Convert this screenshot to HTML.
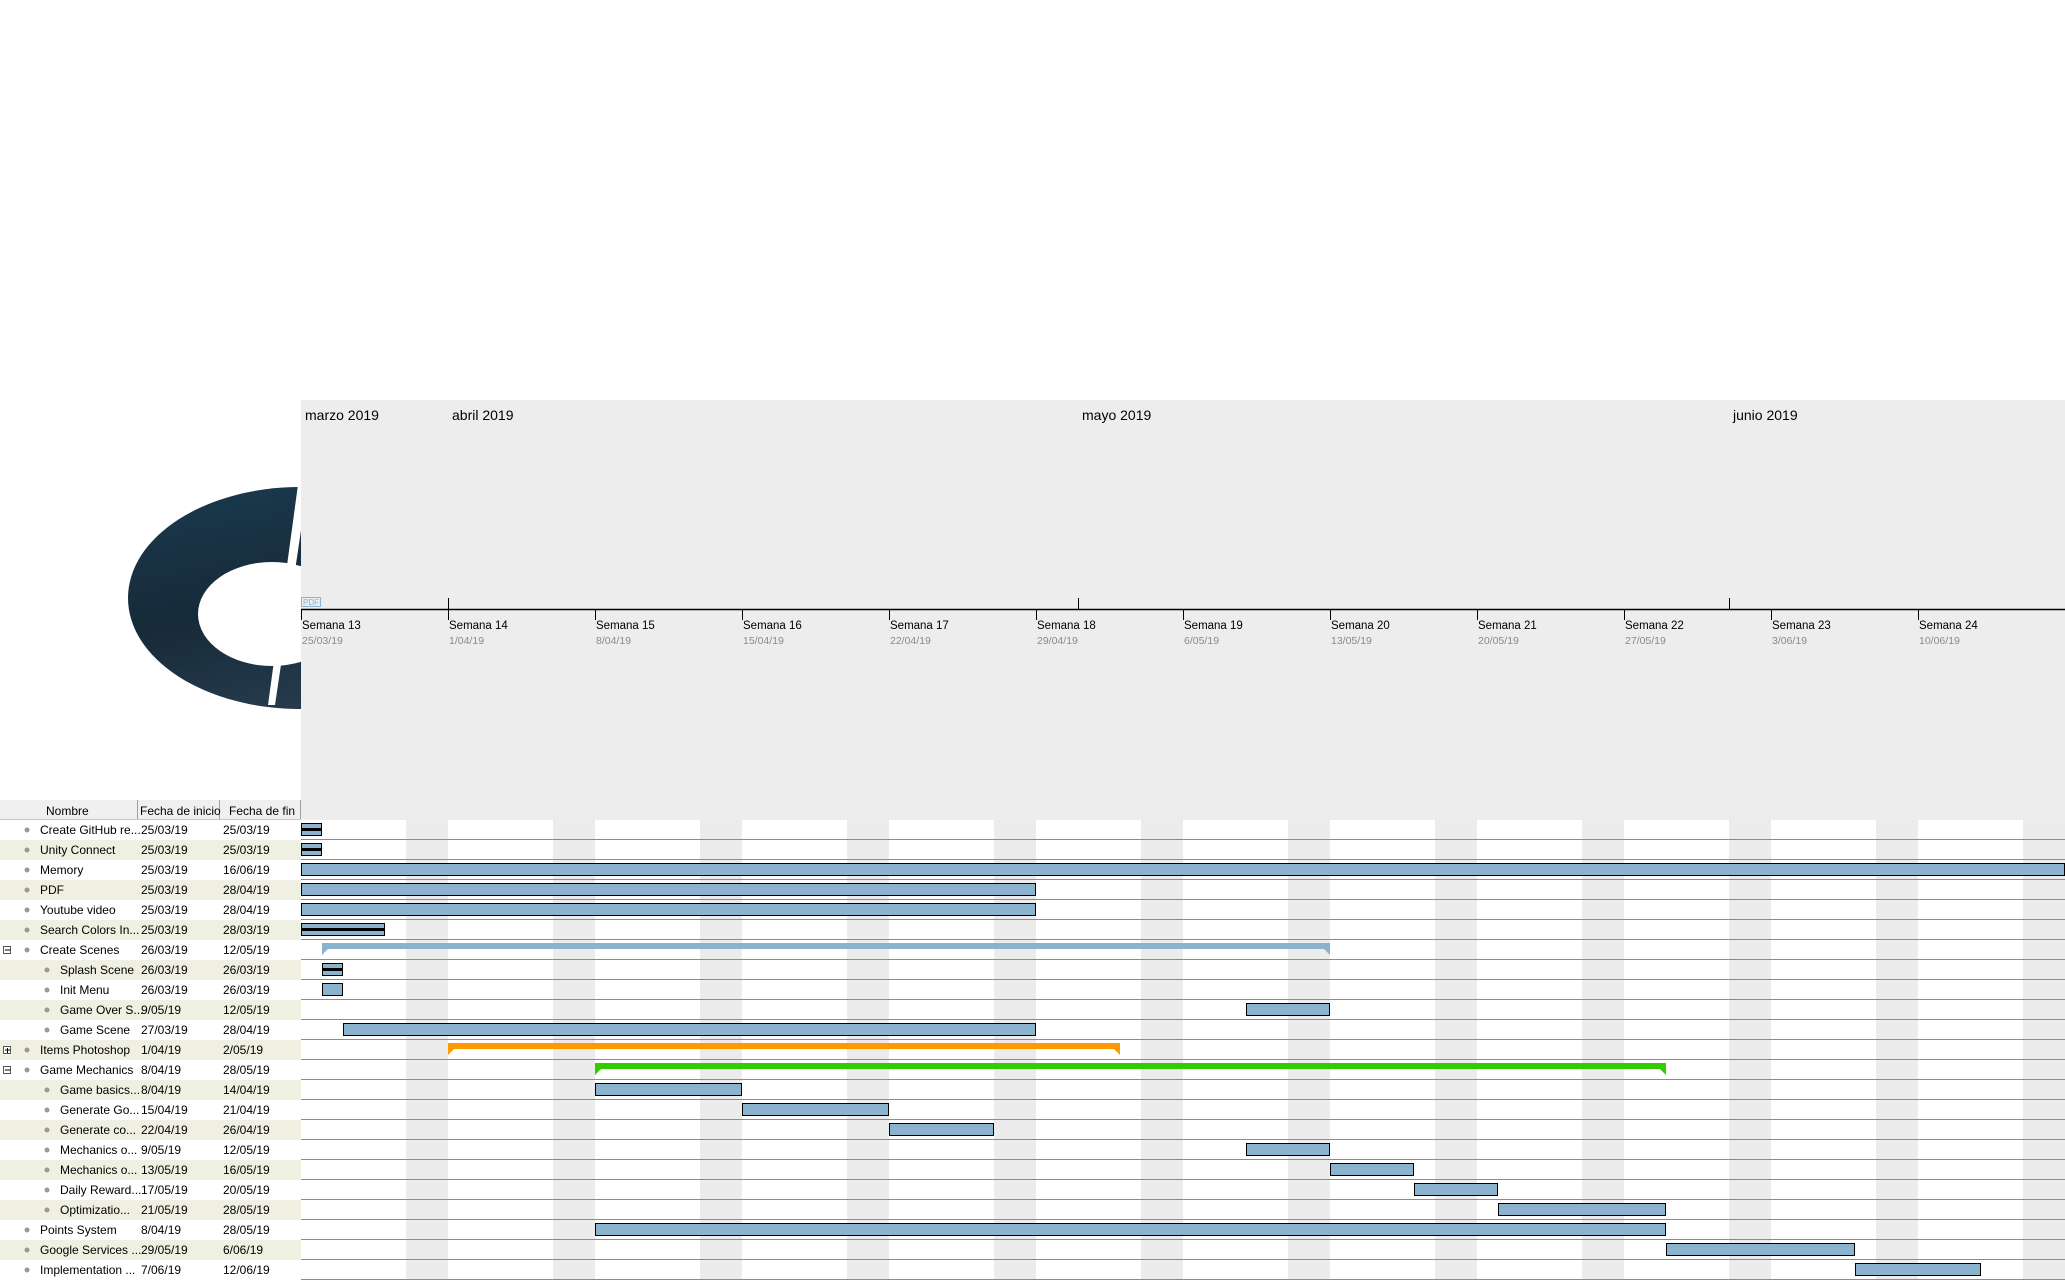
<!DOCTYPE html>
<html><head><meta charset="utf-8"><style>
html,body{margin:0;padding:0;background:#fff;width:2065px;height:1280px;overflow:hidden}
svg{display:block;font-family:"Liberation Sans",sans-serif}
</style></head><body>
<svg id="g" width="2065" height="1280" viewBox="0 0 2065 1280">
<defs><linearGradient id="lg" x1="0" y1="0" x2="0.3" y2="1"><stop offset="0" stop-color="#1b3a50"/><stop offset="0.6" stop-color="#162a38"/><stop offset="1" stop-color="#24394b"/></linearGradient></defs>
<g>
<ellipse cx="300" cy="598" rx="172" ry="111" fill="url(#lg)"/>
<ellipse cx="272" cy="614" rx="74" ry="52" fill="#fff"/>
<polygon points="300,470 268,705 275,705 310,470" fill="#fff"/>
</g>
<rect x="301" y="400" width="1764" height="420" fill="#ededed"/>
<g id="hdr"></g>
<g id="tbl"></g>
<g id="chart"></g>
</svg>
<script>
const names=["Create GitHub re...","Unity Connect","Memory","PDF","Youtube video","Search Colors In...","Create Scenes","Splash Scene","Init Menu","Game Over S...","Game Scene","Items Photoshop","Game Mechanics","Game basics...","Generate Go...","Generate co...","Mechanics o...","Mechanics o...","Daily Reward...","Optimizatio...","Points System","Google Services ...","Implementation ..."];
const starts=["25/03/19","25/03/19","25/03/19","25/03/19","25/03/19","25/03/19","26/03/19","26/03/19","26/03/19","9/05/19","27/03/19","1/04/19","8/04/19","8/04/19","15/04/19","22/04/19","9/05/19","13/05/19","17/05/19","21/05/19","8/04/19","29/05/19","7/06/19"];
const ends=["25/03/19","25/03/19","16/06/19","28/04/19","28/04/19","28/03/19","12/05/19","26/03/19","26/03/19","12/05/19","28/04/19","2/05/19","28/05/19","14/04/19","21/04/19","26/04/19","12/05/19","16/05/19","20/05/19","28/05/19","28/05/19","6/06/19","12/06/19"];
const levels=[0,0,0,0,0,0,0,1,1,1,1,0,0,1,1,1,1,1,1,1,0,0,0];
const kinds=["crit","crit","task","task","task","crit","sum","crit","task","task","task","sumO","sumG","task","task","task","task","task","task","task","task","task","task"];
const expanders=["","","","","","","-","","","","","+","-","","","","","","","","","",""];
const months=["marzo 2019","abril 2019","mayo 2019","junio 2019"];
const monthStarts=["25/03/19","1/04/19","1/05/19","1/06/19"];
const weeks=[13,14,15,16,17,18,19,20,21,22,23,24];
const weekDates=["25/03/19","1/04/19","8/04/19","15/04/19","22/04/19","29/04/19","6/05/19","13/05/19","20/05/19","27/05/19","3/06/19","10/06/19"];

const NS="http://www.w3.org/2000/svg";
function mk(p,t,a,txt){const e=document.createElementNS(NS,t);for(const k in a)e.setAttribute(k,a[k]);if(txt!==undefined)e.textContent=txt;p.appendChild(e);return e;}
function day(s){const [d,m,y]=s.split("/").map(Number);return Math.round((Date.UTC(2000+y,m-1,d)-Date.UTC(2019,2,25))/864e5);}
const X0=301,DW=21;
function x(d){return X0+d*DW;}
const ROW0=819,RH=20;
function rowY(i){return ROW0+i*RH;}

const hdr=document.getElementById('hdr');
months.forEach((m,i)=>{const d=Math.max(0,day(monthStarts[i]));
 const t=mk(hdr,'text',{x:x(d)+4,y:420,'font-size':14,fill:'#000'},m);
 
 
 if(d>0){const l=mk(hdr,'line',{x1:x(d)+0.5,x2:x(d)+0.5,y1:598,y2:609,stroke:'#000'});
 
 }
});
mk(hdr,'line',{x1:301,x2:2065,y1:609.5,y2:609.5,stroke:'#000','stroke-width':1.5});
weeks.forEach((w,i)=>{const d=day(weekDates[i]);
 const l=mk(hdr,'line',{x1:x(d)+0.5,x2:x(d)+0.5,y1:609,y2:620,stroke:'#000'});
 
 
 const t=mk(hdr,'text',{x:x(d)+1,y:629,'font-size':11.5,fill:'#000'},'Semana '+w);
 
 
 const t2=mk(hdr,'text',{x:x(d)+1,y:644,'font-size':10.5,fill:'#8a8a8a'},weekDates[i]);
 
 
});
const pdf=mk(hdr,'g',{});


mk(pdf,'rect',{x:301.5,y:597.5,width:19,height:9,fill:'none',stroke:'#8cb3cf'});
mk(pdf,'text',{x:303,y:605,'font-size':8,fill:'#8cb3cf'},'PDF');

const tbl=document.getElementById('tbl');
mk(tbl,'rect',{x:0,y:800,width:301,height:19,fill:'#f0f0f0'});
[[0,137,'Nombre',46],[137,219,'Fecha de inicio',140],[219,300,'Fecha de fin',229]].forEach(c=>{
 const g=mk(tbl,'g',{});
 
 
 mk(g,'line',{x1:c[1]+0.5,x2:c[1]+0.5,y1:800,y2:819,stroke:'#a0a0a0'});
 mk(g,'text',{x:c[3],y:815,'font-size':12,fill:'#000'},c[2]);
});
mk(tbl,'line',{x1:0,x2:301,y1:819.5,y2:819.5,stroke:'#c8c8c8'});

const ch=document.getElementById('chart');
for(let d=5;d<84;d+=7){const r=mk(ch,'rect',{x:x(d),y:820,width:2*DW,height:460,fill:'#ececec'});
 
 }

names.forEach((n,i)=>{
 const y=rowY(i);
 const row=mk(tbl,'g',{});
 
 
 mk(row,'rect',{x:0,y:y+1,width:301,height:20,fill:i%2?'#efefe2':'#fff'});
 const ind=levels[i]*20;
 mk(row,'circle',{cx:27+ind,cy:y+11,r:2.5,fill:'#999'});
 if(expanders[i]){mk(row,'rect',{x:3.5,y:y+7.5,width:7,height:7,fill:'#fff',stroke:'#555'});
  mk(row,'line',{x1:5,x2:10,y1:y+11,y2:y+11,stroke:'#000'});
  if(expanders[i]=='+')mk(row,'line',{x1:7.5,x2:7.5,y1:y+9,y2:y+14,stroke:'#000'});}
 mk(row,'text',{x:40+ind,y:y+15,'font-size':12,fill:'#000'},n);
 mk(row,'text',{x:141,y:y+15,'font-size':12,fill:'#000'},starts[i]);
 mk(row,'text',{x:223,y:y+15,'font-size':12,fill:'#000'},ends[i]);
 mk(ch,'line',{x1:301,x2:2065,y1:y+20.5,y2:y+20.5,stroke:'#8c8c8c'});
 const s=day(starts[i]),e=day(ends[i])+1,k=kinds[i];
 const x1=x(s),x2=Math.min(x(e),2066);
 if(k=='task'||k=='crit'){
  const b=mk(ch,'rect',{x:x1+0.5,y:y+4.5,width:x2-x1-1,height:12,fill:'#8cb3cd',stroke:'#000'});
  
  
  if(k=='crit')mk(ch,'rect',{x:x1,y:y+9,width:x2-x1,height:3,fill:'#000'});
 } else if(k.startsWith('sum')){
  const col=k=='sum'?'#8cb3cd':(k=='sumO'?'#ff9900':'#33cc00');
  const b=mk(ch,'path',{d:`M${x1},${y+4}H${x2}V${y+16}L${x2-6},${y+10}H${x1+6}L${x1},${y+16}Z`,fill:col});
  
  
 }
});
</script>
</body></html>
